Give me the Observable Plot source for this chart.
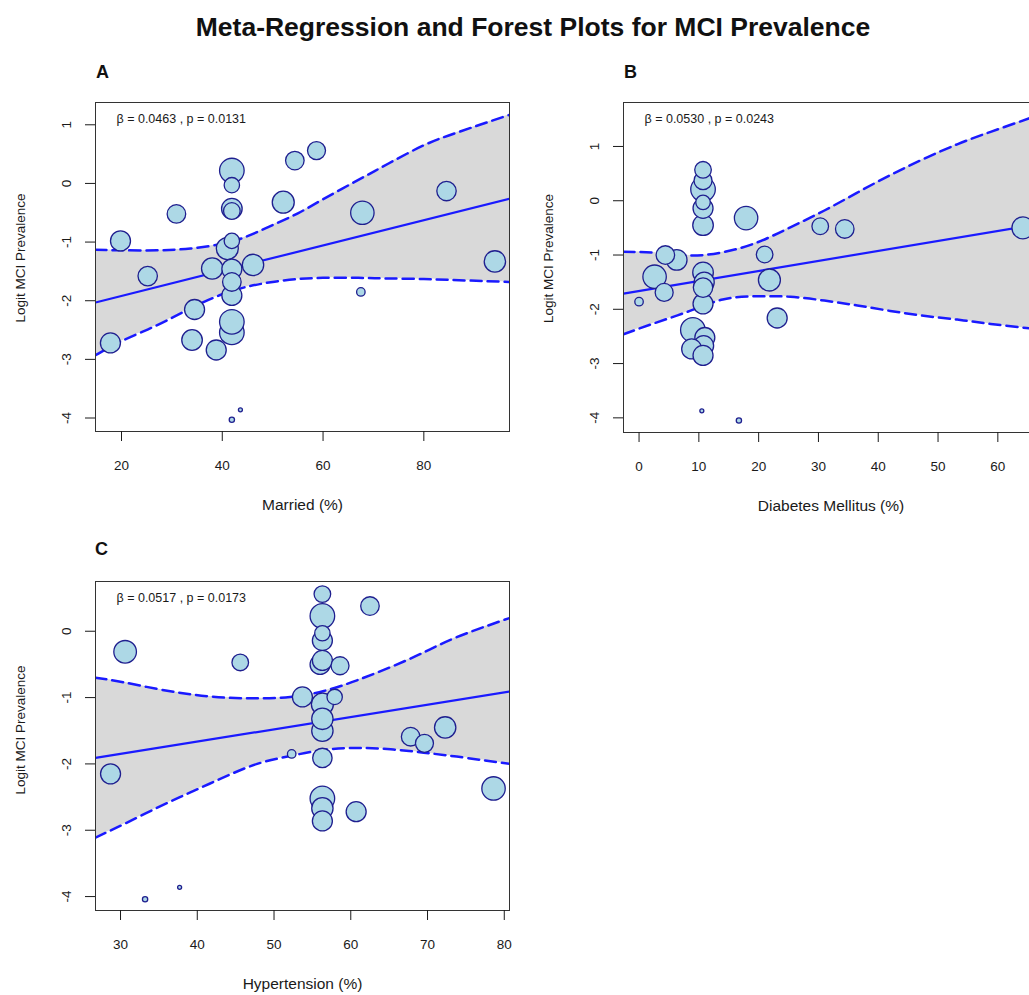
<!DOCTYPE html>
<html>
<head>
<meta charset="utf-8">
<script src="https://cdn.jsdelivr.net/npm/d3@7"></script>
<script src="https://cdn.jsdelivr.net/npm/@observablehq/plot@0.6"></script>
<style>
  body { margin: 0; background: #fff; }
  #wrap { position: relative; width: 1029px; height: 995px; overflow: hidden; background: #fff;
          font-family: "Liberation Sans", Arial, sans-serif; }
  .abs { position: absolute; }
  #title { left: 0; width: 1066px; text-align: center; top: 14px; font-size: 26.5px; font-weight: bold;
           line-height: 26px; color: #111; }
  .lab { font-size: 18px; font-weight: bold; line-height: 18px; color: #111; }
  svg { max-width: none !important; }
</style>
</head>
<body>
<div id="wrap">
  <div id="title" class="abs">Meta-Regression and Forest Plots for MCI Prevalence</div>
  <div class="abs lab" style="left:96px;top:63px;">A</div>
  <div class="abs lab" style="left:624px;top:63px;">B</div>
  <div class="abs lab" style="left:95px;top:540px;">C</div>
  <div id="pA" class="abs" style="left:0px;top:90px;width:530px;"></div>
  <div id="pB" class="abs" style="left:528px;top:90px;width:530px;"></div>
  <div id="pC" class="abs" style="left:0px;top:568px;width:530px;"></div>
</div>
<script>
// ---------- Panel A: Married (%) ----------
const marriedX = [19.8, 25.2, 30.9, 17.8, 34.5, 34.0, 38.8, 38.0, 41.0, 41.9, 41.9, 41.9, 41.9, 41.9, 41.9, 41.9, 41.9, 41.9, 41.9, 46.1, 52.1, 54.4, 58.7, 67.8, 67.5, 84.5, 94.1, 43.6, 41.9];
const marriedY = [-0.98, -1.58, -0.52, -2.72, -2.15, -2.67, -2.84, -1.45, -1.11, -0.98, 0.22, -0.03, -0.43, -0.47, -1.46, -1.68, -1.91, -2.54, -2.36, -1.39, -0.32, 0.39, 0.56, -0.50, -1.85, -0.13, -1.33, -3.86, -4.03];
const marriedW = [100, 94, 86, 100, 100, 106, 100, 114, 121, 59, 151, 59, 106, 69, 100, 86, 100, 151, 151, 114, 121, 86, 81, 137, 18, 94, 114, 4, 7];
const marriedBandX = [14.84, 20, 27, 33.7, 40, 45, 50, 55, 60, 67, 73, 80, 87, 97];
const marriedUpper = [-1.13, -1.14, -1.14, -1.11, -1.03, -0.90, -0.71, -0.51, -0.27, 0.06, 0.34, 0.65, 0.88, 1.17];
const marriedLower = [-2.93, -2.69, -2.42, -2.13, -1.89, -1.76, -1.68, -1.63, -1.61, -1.61, -1.62, -1.63, -1.65, -1.68];
const marriedFitX = [14.84, 97.0];
const marriedFitY = [-2.03, -0.26];
const marriedXTicks = [20, 40, 60, 80];
const marriedYTicks = [1, 0, -1, -2, -3, -4];

// ---------- Panel B: Diabetes Mellitus (%) ----------
const diabetesX = [0, 2.6, 6.3, 4.4, 4.2, 10.7, 10.7, 10.7, 10.7, 10.7, 10.7, 10.7, 10.9, 10.7, 10.7, 9.0, 11.0, 10.8, 8.8, 10.7, 17.9, 21.0, 21.8, 23.1, 30.3, 34.4, 64.2, 10.5, 16.7];
const diabetesY = [-1.86, -1.40, -1.09, -1.00, -1.69, 0.21, 0.37, 0.57, -0.14, -0.03, -0.45, -1.32, -1.50, -1.60, -1.90, -2.38, -2.52, -2.67, -2.73, -2.85, -0.32, -0.99, -1.46, -2.16, -0.47, -0.52, -0.50, -3.87, -4.05];
const diabetesW = [18, 137, 106, 86, 81, 151, 81, 69, 100, 53, 106, 106, 100, 94, 100, 151, 100, 100, 100, 100, 137, 69, 121, 100, 69, 86, 121, 4, 7];
const diabetesBandX = [-2.6, 3, 8.5, 14, 19.7, 25.3, 31, 36.5, 42, 47.6, 53.2, 58.8, 65.3, 66.8];
const diabetesUpper = [-0.94, -0.96, -1.01, -0.95, -0.77, -0.49, -0.18, 0.15, 0.47, 0.77, 1.04, 1.27, 1.52, 1.58];
const diabetesLower = [-2.46, -2.24, -2.03, -1.82, -1.76, -1.77, -1.84, -1.93, -2.03, -2.12, -2.19, -2.27, -2.35, -2.37];
const diabetesFitX = [-2.6, 66.8];
const diabetesFitY = [-1.71, -0.43];
const diabetesXTicks = [0, 10, 20, 30, 40, 50, 60];
const diabetesYTicks = [1, 0, -1, -2, -3, -4];

// ---------- Panel C: Hypertension (%) ----------
const hyperX = [28.7, 30.6, 45.6, 33.2, 37.7, 52.3, 53.7, 56.3, 56.3, 56.3, 56.3, 56.0, 56.3, 58.6, 57.9, 56.3, 56.3, 56.3, 56.3, 56.3, 56.3, 56.3, 60.7, 62.5, 67.8, 69.6, 72.3, 78.6];
const hyperY = [-2.15, -0.31, -0.47, -4.04, -3.86, -1.85, -0.99, 0.56, 0.23, -0.14, -0.03, -0.50, -0.44, -0.52, -0.99, -1.10, -1.50, -1.32, -1.91, -2.86, -2.67, -2.52, -2.72, 0.38, -1.59, -1.69, -1.45, -2.37];
const hyperW = [100, 128, 69, 7, 4, 18, 100, 69, 151, 100, 59, 100, 100, 81, 59, 121, 114, 114, 94, 100, 114, 151, 100, 86, 86, 81, 114, 137];
const hyperBandX = [26.74, 30.4, 34.8, 39.1, 43.5, 47.8, 52.1, 56.5, 60.8, 65.2, 69.5, 73.8, 80.7];
const hyperUpper = [-0.70, -0.77, -0.87, -0.95, -1.00, -1.01, -0.99, -0.90, -0.74, -0.54, -0.32, -0.09, 0.20];
const hyperLower = [-3.11, -2.91, -2.66, -2.43, -2.20, -2.00, -1.88, -1.79, -1.76, -1.78, -1.83, -1.89, -2.00];
const hyperFitX = [26.74, 80.68];
const hyperFitY = [-1.91, -0.91];
const hyperXTicks = [30, 40, 50, 60, 70, 80];
const hyperYTicks = [0, -1, -2, -3, -4];

const yLabel = "Logit MCI Prevalence";

function panel(c) {
  const pts = c.xs.map((x, i) => ({x, y: c.ys[i], w: c.ws[i]}));
  const band = c.bandX.map((x, i) => ({x, lo: c.lower[i], hi: c.upper[i]}));
  const fit = c.fitX.map((x, i) => ({x, y: c.fitY[i]}));
  const blue = "#1a1aff";
  return Plot.plot({
    width: c.width, height: c.height,
    marginTop: c.mt, marginRight: c.mr, marginBottom: c.mb, marginLeft: c.ml,
    style: {fontFamily: "'Liberation Sans', Arial, sans-serif", fontSize: "13.5px", color: "#1a1a1a", background: "transparent", maxWidth: "none"},
    x: {domain: c.xDomain},
    y: {domain: c.yDomain},
    r: {type: "sqrt", domain: [0, 400], range: [0, 20]},
    marks: [
      Plot.areaY(band, {x: "x", y1: "lo", y2: "hi", fill: "#d9d9d9", curve: "natural", clip: true}),
      Plot.line(band, {x: "x", y: "hi", stroke: blue, strokeWidth: 2.5, strokeDasharray: "11,6", curve: "natural", clip: true}),
      Plot.line(band, {x: "x", y: "lo", stroke: blue, strokeWidth: 2.5, strokeDasharray: "11,6", curve: "natural", clip: true}),
      Plot.line(fit, {x: "x", y: "y", stroke: blue, strokeWidth: 2.2, clip: true}),
      Plot.dot(pts, {x: "x", y: "y", r: "w", fill: "#add8e6", stroke: "#1f1f8f", strokeWidth: 1.3}),
      Plot.frame({stroke: "#333"}),
      Plot.axisX({ticks: c.xTicks, tickSize: 10, tickPadding: 19, label: null, fontSize: 13.5, tickFormat: d => String(d)}),
      Plot.axisY({ticks: c.yTicks, tickSize: 10, tickPadding: 15, tickRotate: -90, label: null, fontSize: 13.5, tickFormat: d => String(d)}),
      Plot.text([c.xLabel], {frameAnchor: "bottom", dy: 74, lineAnchor: "middle", textAnchor: "middle", fontSize: 15.5, text: d => d}),
      Plot.text([yLabel], {frameAnchor: "left", dx: -75, dy: c.ldy, rotate: -90, lineAnchor: "middle", textAnchor: "middle", fontSize: 13.5, text: d => d}),
      Plot.text([c.note], {frameAnchor: "top-left", dx: c.ndx, dy: c.ndy, textAnchor: "start", lineAnchor: "middle", fontSize: 12.5, text: d => d})
    ]
  });
}

document.getElementById("pA").append(panel({
  xs: marriedX, ys: marriedY, ws: marriedW,
  bandX: marriedBandX, upper: marriedUpper, lower: marriedLower,
  fitX: marriedFitX, fitY: marriedFitY,
  xDomain: [14.84, 97.0], yDomain: [-4.23, 1.38],
  xTicks: marriedXTicks, yTicks: marriedYTicks,
  xLabel: "Married (%)", note: "β = 0.0463 , p = 0.0131",
  width: 530, height: 430, mt: 12, mr: 21, mb: 89, ml: 95, ndx: 21, ndy: 16.5, ldy: -9
}));

document.getElementById("pB").append(panel({
  xs: diabetesX, ys: diabetesY, ws: diabetesW,
  bandX: diabetesBandX, upper: diabetesUpper, lower: diabetesLower,
  fitX: diabetesFitX, fitY: diabetesFitY,
  xDomain: [-2.6, 66.8], yDomain: [-4.27, 1.81],
  xTicks: diabetesXTicks, yTicks: diabetesYTicks,
  xLabel: "Diabetes Mellitus (%)", note: "β = 0.0530 , p = 0.0243",
  width: 530, height: 430, mt: 12, mr: 20, mb: 88, ml: 95, ndx: 21, ndy: 16.5, ldy: -9
}));

document.getElementById("pC").append(panel({
  xs: hyperX, ys: hyperY, ws: hyperW,
  bandX: hyperBandX, upper: hyperUpper, lower: hyperLower,
  fitX: hyperFitX, fitY: hyperFitY,
  xDomain: [26.74, 80.68], yDomain: [-4.21, 0.75],
  xTicks: hyperXTicks, yTicks: hyperYTicks,
  xLabel: "Hypertension (%)", note: "β = 0.0517 , p = 0.0173",
  width: 530, height: 427, mt: 13, mr: 21, mb: 85, ml: 95, ndx: 21, ndy: 16, ldy: -16
}));
</script>
</body>
</html>
